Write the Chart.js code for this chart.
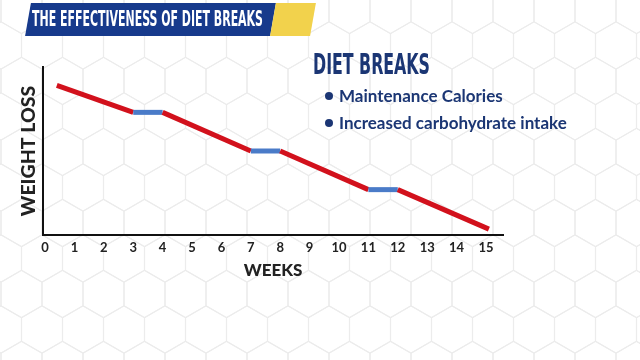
<!DOCTYPE html>
<html>
<head>
<meta charset="utf-8">
<script src="https://cdn.jsdelivr.net/npm/chart.js@4"></script>
<style>
  body { margin: 0; background: #fff; }
  #wrap { position: relative; width: 640px; height: 360px; overflow: hidden; }
  canvas { position: absolute; left: 0; top: 0; }
  .banner { position: absolute; top: 3px; height: 33px; transform: skewX(-10deg); }
  #bannerBlue { left: 28px; width: 245px; background: #173a8c; }
  #bannerYellow { left: 273px; width: 40px; background: #f2d24c; }
  .cond { position: absolute; white-space: nowrap; font-family: "Liberation Sans Narrow", "DejaVu Sans Condensed", "Liberation Sans", sans-serif; font-weight: bold; transform-origin: left center; }
  #bannerText { left: 32px; top: 6px; font-size: 21px; line-height: 27px; color: #fff; }
  #heading { left: 313px; top: 48px; font-size: 28px; line-height: 34px; color: #1b3674; }
  .bullet { position: absolute; left: 325px; font-family: Lato, sans-serif; font-weight: bold; font-size: 17px; color: #1b3674; white-space: nowrap; }
  .bullet span { display: inline-block; width: 8px; height: 8px; border-radius: 4px; background: #1b3674; margin-right: 6px; vertical-align: 2px; }
</style>
</head>
<body>
<div id="wrap">
  <canvas id="chart" width="640" height="360"></canvas>
  <div class="banner" id="bannerBlue"></div>
  <div class="banner" id="bannerYellow"></div>
  <div class="cond" id="bannerText" data-w="231">THE EFFECTIVENESS OF DIET BREAKS</div>
  <div class="cond" id="heading" data-w="117">DIET BREAKS</div>
  <div class="bullet" style="top:85px"><span></span>Maintenance Calories</div>
  <div class="bullet" style="top:112px"><span></span>Increased carbohydrate intake</div>
</div>
<script>
// weeks and weight-loss level
let weeks = [0.4, 3, 4, 7, 8, 11, 12, 15.1];
let level = [8.9, 7.3, 7.3, 5.0, 5.0, 2.7, 2.7, 0.35];
// phase of the segment starting at each point
let phases = ["diet", "break", "diet", "break", "diet", "break", "diet"];
let xTitle = "WEEKS";
let yTitle = "WEIGHT LOSS";

let red = "#d2111c";
let blue = "#4a7bc8";

// squeeze condensed headings to their width in the picture
document.querySelectorAll(".cond").forEach(function (el) {
  let target = Number(el.dataset.w);
  let w = el.getBoundingClientRect().width;
  if (w > 0) el.style.transform = "scaleX(" + (target / w) + ")";
});

let hexBackground = {
  id: "hexBackground",
  beforeDraw: function (chart) {
    let ctx = chart.ctx;
    let w = 41;
    let r = w / Math.sqrt(3);
    let rowH = r * 1.5;
    ctx.save();
    ctx.strokeStyle = "#ececec";
    ctx.lineWidth = 1.1;
    for (let row = -2; row < 14; row++) {
      let cy = 294 - rowH * (8 - row);
      let off = (row % 2 === 0) ? 21.5 : 1;
      for (let col = -1; col < 18; col++) {
        let cx = off + col * w;
        ctx.beginPath();
        for (let k = 0; k < 6; k++) {
          let a = Math.PI / 6 + k * Math.PI / 3;
          let px = cx + r * Math.cos(a);
          let py = cy + r * Math.sin(a);
          if (k === 0) ctx.moveTo(px, py); else ctx.lineTo(px, py);
        }
        ctx.closePath();
        ctx.stroke();
      }
    }
    ctx.restore();
  }
};

let points = [];
for (let i = 0; i < weeks.length; i++) {
  points.push({ x: weeks[i], y: level[i] });
}

new Chart(document.getElementById("chart"), {
  type: "line",
  data: {
    datasets: [{
      data: points,
      borderColor: red,
      borderWidth: 5,
      pointRadius: 0,
      tension: 0,
      segment: {
        borderColor: function (c) {
          return phases[c.p0DataIndex] === "break" ? blue : red;
        }
      }
    }]
  },
  options: {
    responsive: false,
    animation: false,
    layout: { padding: { left: 13, right: 137, top: 67, bottom: 75 } },
    plugins: { legend: { display: false }, tooltip: { enabled: false } },
    scales: {
      x: {
        type: "linear",
        min: -0.07,
        max: 15.58,
        grid: { display: false, drawTicks: false },
        border: { color: "#111", width: 2 },
        ticks: {
          stepSize: 1,
          includeBounds: false,
          padding: 5,
          color: "#222",
          font: { family: "Lato", weight: "bold", size: 13 }
        },
        title: {
          display: true,
          text: xTitle,
          color: "#222",
          font: { family: "Lato", weight: "900", size: 17 }
        },
        afterFit: function (s) { s.height = 50; }
      },
      y: {
        min: 0,
        max: 10,
        grid: { display: false, drawTicks: false },
        border: { color: "#111", width: 2 },
        ticks: { display: false },
        title: {
          display: true,
          text: yTitle,
          color: "#222",
          font: { family: "Lato", weight: "900", size: 19.5 }
        },
        afterFit: function (s) { s.width = 30; }
      }
    }
  },
  plugins: [hexBackground]
});
</script>
</body>
</html>
